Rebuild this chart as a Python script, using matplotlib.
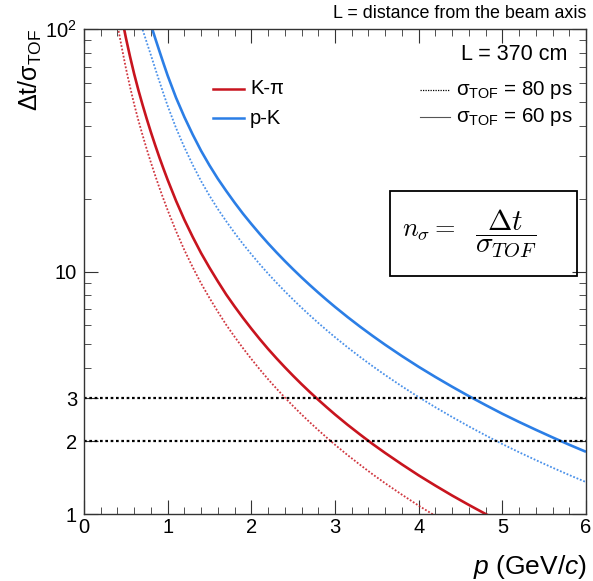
import matplotlib
matplotlib.use("Agg")
import matplotlib.pyplot as plt
from matplotlib.ticker import FixedLocator, NullFormatter, FixedFormatter
import matplotlib.patches as mpatches
import matplotlib.lines as mlines

plt.rcParams['font.family'] = ['Liberation Sans', 'DejaVu Sans']
plt.rcParams['mathtext.fontset'] = 'custom'
plt.rcParams['mathtext.rm'] = 'Liberation Sans'
plt.rcParams['mathtext.it'] = 'Liberation Sans:italic'

# momentum (GeV/c)
p = [0.3, 0.35, 0.4, 0.45, 0.5, 0.55, 0.6, 0.65, 0.7, 0.75, 0.8, 0.85, 0.9, 0.95, 1.0,
     1.1, 1.2, 1.3, 1.4, 1.5, 1.6, 1.7, 1.8, 1.9, 2.0, 2.1, 2.2, 2.3, 2.4, 2.5, 2.6, 2.7,
     2.8, 2.9, 3.0, 3.15, 3.3, 3.45, 3.6, 3.8, 4.0, 4.2, 4.4, 4.6, 4.8, 5.0, 5.2, 5.4,
     5.6, 5.8, 6.0]
# time-of-flight difference (ps)
dt_kpi = [13200, 10300, 8300, 6750, 5530, 4620, 3910, 3360, 2920, 2555, 2250, 1995, 1777,
          1592, 1432, 1174, 980, 832, 714, 622, 546, 482, 430.5, 386.4, 348.7, 316, 287.7,
          263.3, 241.8, 222.8, 205.9, 190.9, 177.5, 165.4, 154.4, 140.0, 127.6, 116.6,
          107.1, 96.1, 86.6, 78.55, 71.5, 65.4, 60.0, 55.22, 51.06, 47.34, 44.04, 41.06,
          38.36]
dt_pk = [24300, 20260, 17200, 14820, 12900, 11340, 10040, 8950, 7970, 7040, 6240, 5510,
         4880, 4330, 3855, 3125, 2600, 2200, 1886, 1643, 1447, 1289, 1154, 1039, 942.3,
         857.9, 784.1, 719.8, 662.9, 612.5, 567.4, 527.2, 491.0, 458.3, 428.7, 389.4, 355.3,
         325.5, 299.2, 268.8, 242.7, 220.4, 200.9, 183.8, 168.8, 155.4, 143.8, 133.5, 124.2,
         115.8, 108.3]
sigma_tof = [60, 80]  # ps
n_levels = [3, 2]

red = '#c8141e'
blue = '#2b7ee6'

fig = plt.figure(figsize=(5.93, 5.81), dpi=100)
ax = fig.add_axes([84/593, 1-514/581, (586-84)/593, (514-29)/581])
ax.set_yscale('log')
ax.set_xlim(0, 6)
ax.set_ylim(1, 100)

for dt, col in [(dt_kpi, red), (dt_pk, blue)]:
    ax.plot(p, [v / sigma_tof[0] for v in dt], color=col, lw=1.9, solid_capstyle='butt')
    ax.plot(p, [v / sigma_tof[1] for v in dt], color=col, lw=1.3, ls=(0, (1, 1)), alpha=0.85)

for lv in n_levels:
    ax.axhline(lv, color='black', lw=1.6, ls=(0, (1.2, 1.2)))

# ticks
ax.xaxis.set_major_locator(FixedLocator([0, 1, 2, 3, 4, 5, 6]))
ax.xaxis.set_minor_locator(FixedLocator([i * 0.2 for i in range(31)]))
ax.yaxis.set_major_locator(FixedLocator([1, 2, 3, 10, 100]))
ax.yaxis.set_major_formatter(FixedFormatter(['1', '2', '3', '10', r'10$^{2}$']))
ax.yaxis.set_minor_locator(FixedLocator([4, 5, 6, 7, 8, 9, 20, 30, 40, 50, 60, 70, 80, 90]))
ax.yaxis.set_minor_formatter(NullFormatter())
ax.tick_params(which='both', direction='in', top=True, right=True, labelsize=14.5, color='#333333')
ax.tick_params(axis='x', which='major', length=10, pad=3)
ax.tick_params(axis='x', which='minor', length=5)
ax.tick_params(axis='y', which='major', length=10, pad=5)
ax.tick_params(axis='y', which='minor', length=5)
for s in ax.spines.values():
    s.set_linewidth(1.0)
    s.set_color('#333333')

fig.text(30/593, 1-29/581, r'Δt/σ$_{\mathregular{TOF}}$', rotation=90, ha='center', va='top', fontsize=18)
fig.text(587/593, 1-567/581, r'$\it{p}$ (GeV/$\it{c}$)', ha='right', va='center', fontsize=19)
fig.text(586/593, 1-13/581, 'L = distance from the beam axis', ha='right', va='center', fontsize=12.9)

# legend (species)
for yy, col, lab in [(89, red, 'K-π'), (118, blue, 'p-K')]:
    fig.add_artist(mlines.Line2D([213/593, 244/593], [1-yy/581, 1-yy/581], color=col, lw=1.8))
    fig.text(250/593, 1-yy/581, lab, ha='left', va='center', fontsize=14.5)

# legend (resolution)
fig.text(567/593, 1-55/581, 'L = 370 cm', ha='right', va='center', fontsize=15.5)
fig.add_artist(mlines.Line2D([420/593, 450/593], [1-90/581, 1-90/581], color='black', lw=0.9, ls=(0, (1, 1))))
fig.text(456/593, 1-90/581, r'σ$_{\mathregular{TOF}}$ = 80 ps', ha='left', va='center', fontsize=14.8)
fig.add_artist(mlines.Line2D([420/593, 450/593], [1-117/581, 1-117/581], color='#555555', lw=0.8))
fig.text(456/593, 1-117/581, r'σ$_{\mathregular{TOF}}$ = 60 ps', ha='left', va='center', fontsize=14.8)

# formula box
box = mpatches.Rectangle((390/593, 1-276/581), (577-390)/593, (276-191)/581,
                         transform=fig.transFigure, fill=False, ec='black', lw=1.3)
fig.add_artist(box)
fig.text(402/593, 1-236/581, r'$n_\sigma =$', ha='left', va='baseline', fontsize=19, math_fontfamily='cm')
fig.text(506/593, 1-233/581, r'$\dfrac{\Delta t}{\sigma_{TOF}}$', ha='center', va='center',
         fontsize=21, math_fontfamily='cm')

fig.savefig('out.png', dpi=100)
